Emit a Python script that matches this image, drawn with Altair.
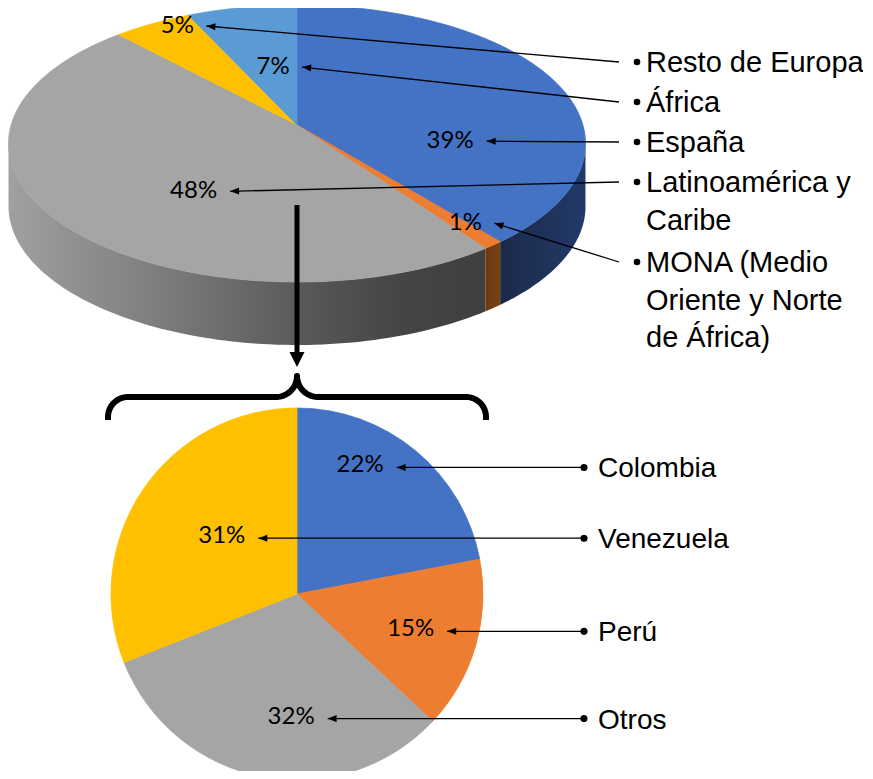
import math
import altair as alt
import pandas as pd

# ---------------- data ----------------
top_names = ["España", "MONA (Medio Oriente y Norte de África)",
             "Latinoamérica y Caribe", "Resto de Europa", "África"]
top_values = [39, 1, 48, 5, 7]

top_legend_names = ["Resto de Europa", "África", "España",
                    "Latinoamérica y Caribe", "MONA (Medio Oriente y Norte de África)"]
top_legend_text = ["Resto de Europa", "África", "España",
                   "Latinoamérica y\nCaribe", "MONA (Medio\nOriente y Norte\nde África)"]

bottom_names = ["Colombia", "Perú", "Otros", "Venezuela"]
bottom_values = [22, 15, 32, 31]

# ---------------- styles ----------------
top_colors = ["#4472C4", "#ED7D31", "#A5A5A5", "#FFC000", "#5B9BD5"]
bottom_colors = ["#4472C4", "#ED7D31", "#A5A5A5", "#FFC000"]
side_stops = [
    [("#1A2A48", 0.0), ("#22396A", 1.0)],
    [("#6B3811", 0.0), ("#7A4214", 1.0)],
    [("#A0A0A0", 0.0), ("#8A8A8A", 0.2), ("#707070", 0.42),
     ("#585858", 0.62), ("#454545", 0.82), ("#3F3F3F", 1.0)],
    None,
    None,
]
# label placement inside each slice: (fraction of the slice's angle, fraction of radius)
top_label_place = [(0.73, 0.54), (0.11, 0.85), (0.42, 0.57), (0.74, 0.93), (0.56, 0.46)]
bottom_label_place = [(0.33, 0.77), (0.52, 0.64), (0.43, 0.66), (0.53, 0.51)]

PCT_FONT = "Lato"
PCT_SIZE = 24
LEG_FONT = "Liberation Sans"
LEG_SIZE_TOP = 29
LEG_SIZE_BOT = 28

# ---------------- layout (data units = screen pixels) ----------------
W, H = 855, 763
M = 8
CX, CY, A, B, K, D = 297, 125, 285.9, 136.0, 0.1336, 63     # 3D pie (perspective)
BCX, BCY, BR = 297, 594, 186                               # flat pie
TOP_LEG_Y0, TOP_LEG_STEP = 62, 40
TOP_LINE_X, TOP_BULLET_X, TOP_TEXT_X = 619, 637, 646
BOT_DOT_X, BOT_TEXT_X = 584, 598
N = 90

xs = alt.Scale(domain=[M, M + W], nice=False, zero=False)
ys = alt.Scale(domain=[M, M + H], nice=False, zero=False, reverse=True)


def X(f):
    return alt.X(f"{f}:Q", scale=xs, axis=None)


def Y(f):
    return alt.Y(f"{f}:Q", scale=ys, axis=None)


def fractions(values):
    tot = float(sum(values))
    out, acc = [], 0.0
    for v in values:
        out.append((acc / tot, (acc + v) / tot))
        acc += v
    return out


ARROW = "M0,0L0.78,2L-0.78,2Z"

fr_top = fractions(top_values)
fr_bot = fractions(bottom_values)
top_scale = alt.Scale(domain=top_names, range=top_colors)
bot_scale = alt.Scale(domain=bottom_names, range=bottom_colors)

layers = []

# ---------------- 3D pie: side walls ----------------
side_rows = []
for n, (s0, s1) in zip(top_names, fr_top):
    for j in range(N + 1):
        side_rows.append(dict(name=n, start=s0, end=s1, s=j / N, e=0, k=j))
    for j in range(N + 1):
        side_rows.append(dict(name=n, start=s0, end=s1, s=1 - j / N, e=1, k=N + 1 + j))
sides = pd.DataFrame(side_rows)
TR = math.degrees(math.acos(-K))
TL = 360 - TR

for n, stops in zip(top_names, side_stops):
    if stops is None:
        continue
    grad = alt.LinearGradient(
        gradient="linear",
        stops=[alt.GradientStop(color=c, offset=o) for c, o in stops],
        x1=0, x2=1, y1=0, y2=0,
    )
    layers.append(
        alt.Chart(sides)
        .transform_filter(alt.datum.name == n)
        .transform_calculate(tt1=f"max(datum.start * 360, {TR})",
                             tt2=f"min(datum.end * 360, {TL})")
        .transform_filter("datum.tt2 > datum.tt1")
        .transform_calculate(t="(datum.tt1 + (datum.tt2 - datum.tt1) * datum.s) * PI / 180")
        .transform_calculate(u="sin(datum.t)", v="-cos(datum.t)")
        .transform_calculate(w=f"1 - {K} * datum.v")
        .transform_calculate(x=f"{CX} + {A} * datum.u / datum.w",
                             y=f"{CY} + {B} * datum.v / datum.w + datum.e * {D}")
        .mark_line(filled=True, interpolate="linear-closed", fill=grad, strokeWidth=0)
        .encode(x=X("x"), y=Y("y"), order=alt.Order("k:Q"))
    )

# ---------------- 3D pie: top surface ----------------
wedge_rows = []
for n, (s0, s1) in zip(top_names, fr_top):
    wedge_rows.append(dict(name=n, start=s0, end=s1, s=0.0, c=1, k=0))
    for j in range(N + 1):
        wedge_rows.append(dict(name=n, start=s0, end=s1, s=j / N, c=0, k=j + 1))
wedges = pd.DataFrame(wedge_rows)

layers.append(
    alt.Chart(wedges)
    .transform_calculate(t="(datum.start + (datum.end - datum.start) * datum.s) * 2 * PI")
    .transform_calculate(u="sin(datum.t)", v="-cos(datum.t)")
    .transform_calculate(w=f"1 - {K} * datum.v")
    .transform_calculate(x=f"datum.c == 1 ? {CX} : {CX} + {A} * datum.u / datum.w",
                         y=f"datum.c == 1 ? {CY} : {CY} + {B} * datum.v / datum.w")
    .mark_line(filled=True, interpolate="linear-closed", strokeWidth=0.8)
    .encode(x=X("x"), y=Y("y"),
            color=alt.Color("name:N", scale=top_scale, legend=None),
            stroke=alt.Stroke("name:N", scale=top_scale, legend=None),
            order=alt.Order("k:Q"))
)

# ---------------- flat pie ----------------
bot_df = pd.DataFrame(dict(name=bottom_names, value=bottom_values, ord=list(range(len(bottom_names)))))
layers.append(
    alt.Chart(bot_df)
    .mark_arc(outerRadius=BR, strokeWidth=0.8)
    .encode(theta=alt.Theta("value:Q", stack=True),
            color=alt.Color("name:N", scale=bot_scale, legend=None),
            stroke=alt.Stroke("name:N", scale=bot_scale, legend=None),
            order=alt.Order("ord:Q"),
            x=alt.XDatum(BCX, type="quantitative", scale=xs, axis=None),
            y=alt.YDatum(BCY, type="quantitative", scale=ys, axis=None))
)

# ---------------- 3D pie labels + leaders ----------------
line_counts = [t.count("\n") + 1 for t in top_legend_text]
leg_index, acc = {}, 0
for nm, lc in zip(top_legend_names, line_counts):
    leg_index[nm] = acc
    acc += lc

top_lab = pd.DataFrame(dict(
    name=top_names, value=top_values,
    start=[f[0] for f in fr_top], end=[f[1] for f in fr_top],
    frac=[p[0] for p in top_label_place], rad=[p[1] for p in top_label_place],
    legy=[TOP_LEG_Y0 + TOP_LEG_STEP * leg_index[n] for n in top_names],
))
top_lab_base = (
    alt.Chart(top_lab)
    .transform_calculate(label="datum.value + '%'")
    .transform_calculate(t="(datum.start + (datum.end - datum.start) * datum.frac) * 2 * PI")
    .transform_calculate(u="datum.rad * sin(datum.t)", v="-datum.rad * cos(datum.t)")
    .transform_calculate(w=f"1 - {K} * datum.v")
    .transform_calculate(lx=f"{CX} + {A} * datum.u / datum.w",
                         ly=f"{CY} + {B} * datum.v / datum.w")
    .transform_calculate(tipx="datum.lx + length(datum.label) * 7.5 + 14",
                         tipy="datum.ly", legx=f"{TOP_LINE_X}")
    .transform_calculate(ang="(atan2(datum.tipx - datum.legx, -(datum.tipy - datum.legy)) * 180 / PI + 360) % 360")
)
layers.append(top_lab_base.mark_rule(strokeWidth=1.3, color="black")
              .encode(x=X("tipx"), y=Y("tipy"), x2="legx:Q", y2="legy:Q"))
layers.append(top_lab_base.mark_point(shape=ARROW, filled=True, size=81, color="black", opacity=1)
              .encode(x=X("tipx"), y=Y("tipy"), angle=alt.Angle("ang:Q", scale=None)))
layers.append(top_lab_base.mark_text(font=PCT_FONT, fontSize=PCT_SIZE, align="center",
                                     baseline="middle", color="black")
              .encode(x=X("lx"), y=Y("ly"), text="label:N"))

# ---------------- 3D pie legend ----------------
top_leg = pd.DataFrame(dict(name=top_legend_names, text=top_legend_text,
                            legy=[TOP_LEG_Y0 + TOP_LEG_STEP * leg_index[n] for n in top_legend_names]))
top_leg_base = alt.Chart(top_leg).transform_calculate(
    bx=f"{TOP_BULLET_X}", tx=f"{TOP_TEXT_X}", ty="datum.legy + 10")
layers.append(top_leg_base.mark_point(shape="circle", filled=True, size=44, color="black", opacity=1)
              .encode(x=X("bx"), y=Y("legy")))
layers.append(top_leg_base.mark_text(font=LEG_FONT, fontSize=LEG_SIZE_TOP, align="left",
                                     baseline="alphabetic", lineBreak="\n", lineHeight=37.5,
                                     color="black")
              .encode(x=X("tx"), y=Y("ty"), text="text:N"))

# ---------------- flat pie labels + leaders + legend ----------------
bot_lab = pd.DataFrame(dict(
    name=bottom_names, value=bottom_values,
    start=[f[0] for f in fr_bot], end=[f[1] for f in fr_bot],
    frac=[p[0] for p in bottom_label_place], rad=[p[1] for p in bottom_label_place],
))
bot_base = (
    alt.Chart(bot_lab)
    .transform_calculate(label="datum.value + '%'")
    .transform_calculate(t="(datum.start + (datum.end - datum.start) * datum.frac) * 2 * PI")
    .transform_calculate(lx=f"{BCX} + {BR} * datum.rad * sin(datum.t)",
                         ly=f"{BCY} - {BR} * datum.rad * cos(datum.t)")
    .transform_calculate(tipx="datum.lx + length(datum.label) * 7.5 + 14",
                         tipy="datum.ly + 2", legx=f"{BOT_DOT_X}", tx=f"{BOT_TEXT_X}")
    .transform_calculate(legy="datum.tipy", ty="datum.tipy + 10")
    .transform_calculate(ang="(atan2(datum.tipx - datum.legx, -(datum.tipy - datum.legy)) * 180 / PI + 360) % 360")
)
layers.append(bot_base.mark_rule(strokeWidth=1.3, color="black")
              .encode(x=X("tipx"), y=Y("tipy"), x2="legx:Q", y2="legy:Q"))
layers.append(bot_base.mark_point(shape=ARROW, filled=True, size=81, color="black", opacity=1)
              .encode(x=X("tipx"), y=Y("tipy"), angle=alt.Angle("ang:Q", scale=None)))
layers.append(bot_base.mark_point(shape="circle", filled=True, size=50, color="black", opacity=1)
              .encode(x=X("legx"), y=Y("legy")))
layers.append(bot_base.mark_text(font=PCT_FONT, fontSize=PCT_SIZE, align="center",
                                 baseline="middle", color="black")
              .encode(x=X("lx"), y=Y("ly"), text="label:N"))
layers.append(bot_base.mark_text(font=LEG_FONT, fontSize=LEG_SIZE_BOT, align="left",
                                 baseline="alphabetic", color="black")
              .encode(x=X("tx"), y=Y("ty"), text="name:N"))

# ---------------- big arrow + brace ----------------
ARROW_TOP_Y = 205
BRACE_HALF, BRACE_END_Y, BRACE_BAR_Y, BRACE_PEAK_Y, RC = 189, 420, 397, 376, 20
RI = BRACE_BAR_Y - BRACE_PEAK_Y
arrow_df = pd.DataFrame(dict(x=[BCX], y1=[ARROW_TOP_Y], y2=[BRACE_PEAK_Y - 22], tip=[BRACE_PEAK_Y - 9]))
layers.append(alt.Chart(arrow_df).mark_rule(strokeWidth=5, color="black")
              .encode(x=X("x"), y=Y("y1"), y2="y2:Q"))
layers.append(alt.Chart(arrow_df).mark_point(shape="M0,0L1,2L-1,2Z", filled=True, size=225,
                                             color="black", opacity=1, angle=180)
              .encode(x=X("x"), y=Y("tip")))


def arc_pts(xc, yc, r, a0, a1, n=16):
    return [(xc + r * math.cos(math.radians(a0 + (a1 - a0) * i / n)),
             yc + r * math.sin(math.radians(a0 + (a1 - a0) * i / n))) for i in range(n + 1)]


xl, xr = BCX - BRACE_HALF, BCX + BRACE_HALF
pts = [(xl, BRACE_END_Y)]
pts += arc_pts(xl + RC, BRACE_BAR_Y + RC, RC, 180, 270)
pts += arc_pts(BCX - RI, BRACE_BAR_Y - RI, RI, 90, 0)
pts += arc_pts(BCX + RI, BRACE_BAR_Y - RI, RI, 180, 90)
pts += arc_pts(xr - RC, BRACE_BAR_Y + RC, RC, 270, 360)
pts += [(xr, BRACE_END_Y)]
brace = pd.DataFrame(dict(x=[p[0] for p in pts], y=[p[1] for p in pts], k=list(range(len(pts)))))
layers.append(alt.Chart(brace).mark_line(strokeWidth=6, color="black", strokeJoin="round")
              .encode(x=X("x"), y=Y("y"), order=alt.Order("k:Q")))

chart = (
    alt.layer(*layers)
    .properties(width=W, height=H, padding=0, autosize="none")
    .configure_view(strokeWidth=0)
)
chart.save("out.html", embed_options={"renderer": "svg", "actions": False})
